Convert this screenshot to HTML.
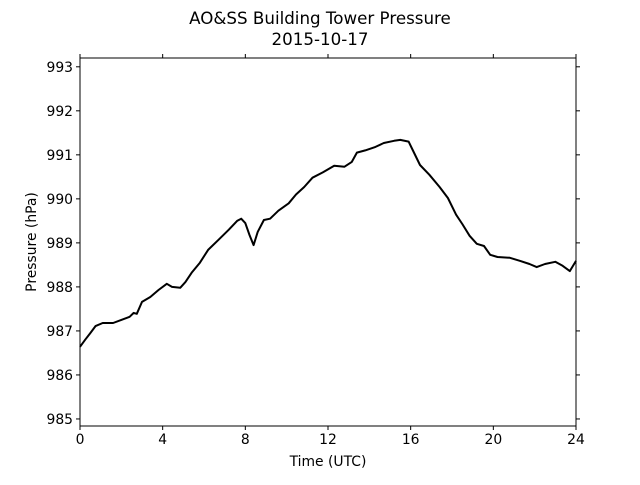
<!DOCTYPE html>
<html><head><meta charset="utf-8"><style>
body{margin:0;background:#fff}
svg text{font-family:"DejaVu Sans","Liberation Sans",sans-serif;fill:#000}
</style></head><body>
<svg id="chart" width="640" height="480" xmlns="http://www.w3.org/2000/svg">
<rect width="640" height="480" fill="#fff"/>
<text x="320" y="24" text-anchor="middle" font-size="16.7">AO&amp;SS Building Tower Pressure</text>
<text x="320" y="45" text-anchor="middle" font-size="16.7">2015-10-17</text>
<g id="ticks"></g>
<path id="line" fill="none" stroke="#000" stroke-width="2" stroke-linejoin="round"/>
<rect x="80" y="58" width="496" height="368" fill="none" stroke="#000" stroke-width="1"/>
<text x="328" y="466" text-anchor="middle" font-size="13.9">Time (UTC)</text>
<text transform="translate(36,242) rotate(-90)" text-anchor="middle" font-size="13.9">Pressure (hPa)</text>
</svg>
<script>
const hours=[0,0.25,0.5,0.75,1.1,1.6,2.0,2.4,2.6,2.75,3.0,3.4,3.8,4.2,4.45,4.85,5.1,5.4,5.8,6.2,6.7,7.2,7.6,7.8,8.0,8.2,8.4,8.6,8.9,9.2,9.6,10.1,10.45,10.85,11.25,11.75,12.3,12.8,13.15,13.4,13.8,14.3,14.7,15.2,15.5,15.9,16.1,16.45,16.9,17.4,17.8,18.2,18.5,18.85,19.2,19.55,19.85,20.2,20.8,21.3,21.75,22.1,22.5,23.0,23.35,23.7,24];
const pressure=[986.64,986.8,986.95,987.11,987.18,987.18,987.25,987.32,987.41,987.39,987.66,987.77,987.93,988.07,988.0,987.98,988.11,988.32,988.55,988.84,989.07,989.3,989.5,989.55,989.45,989.18,988.95,989.25,989.52,989.55,989.73,989.9,990.1,990.27,990.48,990.6,990.75,990.73,990.84,991.05,991.1,991.18,991.27,991.32,991.34,991.3,991.11,990.77,990.55,990.27,990.02,989.64,989.43,989.16,988.98,988.93,988.73,988.68,988.66,988.59,988.52,988.45,988.52,988.57,988.48,988.36,988.59];
const xTicks=[0,4,8,12,16,20,24];
const yTicks=[985,986,987,988,989,990,991,992,993];
const L=80,R=576,T=58,B=426,ymin=984.84,ymax=993.2;
const sx=h=>L+(h/24)*(R-L);
const sy=p=>B-(p-ymin)/(ymax-ymin)*(B-T);
const NS="http://www.w3.org/2000/svg";
const g=document.getElementById('ticks');
function mk(t,a){const e=document.createElementNS(NS,t);for(const k in a)e.setAttribute(k,a[k]);g.appendChild(e);return e;}
xTicks.forEach(v=>{const x=sx(v);
 const t1=mk('line',{x1:x,x2:x,y1:B,y2:B+4,stroke:'#000'});
 
 
 const t2=mk('line',{x1:x,x2:x,y1:T,y2:T-4,stroke:'#000'});
 
 
 const tx=mk('text',{x:x,y:B+18,'text-anchor':'middle','font-size':'13.9'});tx.textContent=v;
 
 
});
yTicks.forEach(v=>{const y=sy(v);
 const t1=mk('line',{x1:L-4,x2:L,y1:y,y2:y,stroke:'#000'});
 
 
 const t2=mk('line',{x1:R,x2:R+4,y1:y,y2:y,stroke:'#000'});
 
 
 const tx=mk('text',{x:L-7,y:y+5,'text-anchor':'end','font-size':'13.9'});tx.textContent=v;
 
 
});
document.getElementById('line').setAttribute('d',hours.map((h,i)=>(i?'L':'M')+sx(h).toFixed(1)+','+sy(pressure[i]).toFixed(1)).join(''));
</script>
</body></html>
